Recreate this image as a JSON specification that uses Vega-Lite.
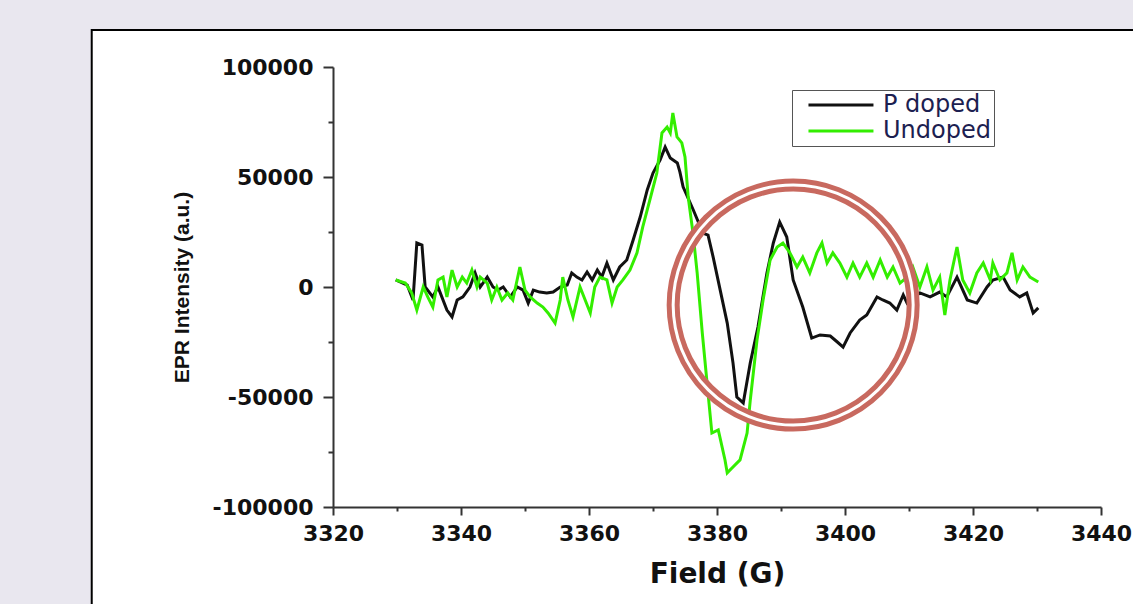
{
  "$schema": "https://vega.github.io/schema/vega-lite/v6.json",
  "width": 768,
  "height": 440,
  "autosize": {"type": "none"},
  "padding": {"left": 333, "top": 67, "right": 32, "bottom": 97},
  "background": "#e9e7ef",
  "config": {"view": {"stroke": null}},
  "datasets": {
    "epr": [
      {"B": 3329.8, "I": 3200, "sample": "P doped"},
      {"B": 3331.6, "I": 900, "sample": "P doped"},
      {"B": 3332.5, "I": -5900, "sample": "P doped"},
      {"B": 3333.1, "I": 20000, "sample": "P doped"},
      {"B": 3333.9, "I": 19100, "sample": "P doped"},
      {"B": 3334.4, "I": 0, "sample": "P doped"},
      {"B": 3335.6, "I": -4500, "sample": "P doped"},
      {"B": 3336.4, "I": 0, "sample": "P doped"},
      {"B": 3337.8, "I": -10500, "sample": "P doped"},
      {"B": 3338.6, "I": -13600, "sample": "P doped"},
      {"B": 3339.4, "I": -5900, "sample": "P doped"},
      {"B": 3340.3, "I": -4500, "sample": "P doped"},
      {"B": 3341.4, "I": 0, "sample": "P doped"},
      {"B": 3342.2, "I": 6400, "sample": "P doped"},
      {"B": 3343.0, "I": 0, "sample": "P doped"},
      {"B": 3344.1, "I": 4500, "sample": "P doped"},
      {"B": 3345.0, "I": 0, "sample": "P doped"},
      {"B": 3345.8, "I": -1400, "sample": "P doped"},
      {"B": 3346.6, "I": 0, "sample": "P doped"},
      {"B": 3347.7, "I": -4500, "sample": "P doped"},
      {"B": 3348.8, "I": 0, "sample": "P doped"},
      {"B": 3349.7, "I": -1400, "sample": "P doped"},
      {"B": 3350.5, "I": -7300, "sample": "P doped"},
      {"B": 3351.3, "I": -1400, "sample": "P doped"},
      {"B": 3352.3, "I": -2300, "sample": "P doped"},
      {"B": 3353.4, "I": -2700, "sample": "P doped"},
      {"B": 3354.4, "I": -2300, "sample": "P doped"},
      {"B": 3355.5, "I": 0, "sample": "P doped"},
      {"B": 3356.6, "I": 900, "sample": "P doped"},
      {"B": 3357.3, "I": 6400, "sample": "P doped"},
      {"B": 3358.1, "I": 4500, "sample": "P doped"},
      {"B": 3358.9, "I": 3200, "sample": "P doped"},
      {"B": 3359.7, "I": 6800, "sample": "P doped"},
      {"B": 3360.5, "I": 3200, "sample": "P doped"},
      {"B": 3361.3, "I": 7700, "sample": "P doped"},
      {"B": 3362.0, "I": 4500, "sample": "P doped"},
      {"B": 3362.8, "I": 10900, "sample": "P doped"},
      {"B": 3363.8, "I": 3200, "sample": "P doped"},
      {"B": 3364.8, "I": 9100, "sample": "P doped"},
      {"B": 3365.9, "I": 12300, "sample": "P doped"},
      {"B": 3366.9, "I": 21400, "sample": "P doped"},
      {"B": 3368.0, "I": 31800, "sample": "P doped"},
      {"B": 3369.1, "I": 44100, "sample": "P doped"},
      {"B": 3370.0, "I": 51800, "sample": "P doped"},
      {"B": 3371.1, "I": 57700, "sample": "P doped"},
      {"B": 3371.9, "I": 63600, "sample": "P doped"},
      {"B": 3372.7, "I": 58600, "sample": "P doped"},
      {"B": 3373.8, "I": 56400, "sample": "P doped"},
      {"B": 3374.2, "I": 52300, "sample": "P doped"},
      {"B": 3374.7, "I": 45500, "sample": "P doped"},
      {"B": 3376.3, "I": 35000, "sample": "P doped"},
      {"B": 3377.8, "I": 24500, "sample": "P doped"},
      {"B": 3378.6, "I": 23600, "sample": "P doped"},
      {"B": 3379.4, "I": 13600, "sample": "P doped"},
      {"B": 3380.5, "I": -1400, "sample": "P doped"},
      {"B": 3381.6, "I": -16400, "sample": "P doped"},
      {"B": 3382.5, "I": -34500, "sample": "P doped"},
      {"B": 3383.1, "I": -50000, "sample": "P doped"},
      {"B": 3384.1, "I": -52700, "sample": "P doped"},
      {"B": 3385.2, "I": -34500, "sample": "P doped"},
      {"B": 3386.4, "I": -18200, "sample": "P doped"},
      {"B": 3387.8, "I": 6400, "sample": "P doped"},
      {"B": 3388.8, "I": 20000, "sample": "P doped"},
      {"B": 3389.8, "I": 29500, "sample": "P doped"},
      {"B": 3390.9, "I": 22700, "sample": "P doped"},
      {"B": 3391.9, "I": 3200, "sample": "P doped"},
      {"B": 3393.4, "I": -9100, "sample": "P doped"},
      {"B": 3394.8, "I": -23200, "sample": "P doped"},
      {"B": 3396.1, "I": -21800, "sample": "P doped"},
      {"B": 3397.7, "I": -22300, "sample": "P doped"},
      {"B": 3398.8, "I": -25000, "sample": "P doped"},
      {"B": 3399.7, "I": -27300, "sample": "P doped"},
      {"B": 3400.8, "I": -20900, "sample": "P doped"},
      {"B": 3402.3, "I": -15000, "sample": "P doped"},
      {"B": 3403.4, "I": -12700, "sample": "P doped"},
      {"B": 3405.0, "I": -4500, "sample": "P doped"},
      {"B": 3405.9, "I": -5900, "sample": "P doped"},
      {"B": 3407.0, "I": -7300, "sample": "P doped"},
      {"B": 3408.1, "I": -10500, "sample": "P doped"},
      {"B": 3409.1, "I": -3600, "sample": "P doped"},
      {"B": 3409.7, "I": -7300, "sample": "P doped"},
      {"B": 3411.7, "I": -2700, "sample": "P doped"},
      {"B": 3413.3, "I": -4500, "sample": "P doped"},
      {"B": 3414.8, "I": -2300, "sample": "P doped"},
      {"B": 3415.9, "I": -4500, "sample": "P doped"},
      {"B": 3417.5, "I": 4500, "sample": "P doped"},
      {"B": 3419.1, "I": -5900, "sample": "P doped"},
      {"B": 3420.6, "I": -7300, "sample": "P doped"},
      {"B": 3422.2, "I": 0, "sample": "P doped"},
      {"B": 3423.1, "I": 3200, "sample": "P doped"},
      {"B": 3424.7, "I": 4500, "sample": "P doped"},
      {"B": 3425.8, "I": -1400, "sample": "P doped"},
      {"B": 3427.3, "I": -4500, "sample": "P doped"},
      {"B": 3428.4, "I": -2700, "sample": "P doped"},
      {"B": 3429.4, "I": -11800, "sample": "P doped"},
      {"B": 3430.2, "I": -9500, "sample": "P doped"},
      {"B": 3329.8, "I": 3200, "sample": "Undoped"},
      {"B": 3331.3, "I": 1800, "sample": "Undoped"},
      {"B": 3332.3, "I": -2700, "sample": "Undoped"},
      {"B": 3333.1, "I": -10500, "sample": "Undoped"},
      {"B": 3334.1, "I": 0, "sample": "Undoped"},
      {"B": 3334.8, "I": -4500, "sample": "Undoped"},
      {"B": 3335.6, "I": -9100, "sample": "Undoped"},
      {"B": 3336.4, "I": 3200, "sample": "Undoped"},
      {"B": 3337.2, "I": 4500, "sample": "Undoped"},
      {"B": 3337.8, "I": -4500, "sample": "Undoped"},
      {"B": 3338.6, "I": 7700, "sample": "Undoped"},
      {"B": 3339.4, "I": 0, "sample": "Undoped"},
      {"B": 3340.2, "I": 4500, "sample": "Undoped"},
      {"B": 3340.9, "I": 1800, "sample": "Undoped"},
      {"B": 3341.7, "I": 7700, "sample": "Undoped"},
      {"B": 3342.5, "I": 0, "sample": "Undoped"},
      {"B": 3343.0, "I": 4500, "sample": "Undoped"},
      {"B": 3344.1, "I": 1800, "sample": "Undoped"},
      {"B": 3344.8, "I": -5900, "sample": "Undoped"},
      {"B": 3345.6, "I": 0, "sample": "Undoped"},
      {"B": 3346.4, "I": -5900, "sample": "Undoped"},
      {"B": 3347.3, "I": -2700, "sample": "Undoped"},
      {"B": 3348.1, "I": -5900, "sample": "Undoped"},
      {"B": 3349.2, "I": 9100, "sample": "Undoped"},
      {"B": 3350.0, "I": -1400, "sample": "Undoped"},
      {"B": 3350.8, "I": -4500, "sample": "Undoped"},
      {"B": 3351.9, "I": -7300, "sample": "Undoped"},
      {"B": 3352.8, "I": -9100, "sample": "Undoped"},
      {"B": 3353.6, "I": -11800, "sample": "Undoped"},
      {"B": 3354.7, "I": -16400, "sample": "Undoped"},
      {"B": 3355.5, "I": -5900, "sample": "Undoped"},
      {"B": 3355.9, "I": 4500, "sample": "Undoped"},
      {"B": 3356.7, "I": -5900, "sample": "Undoped"},
      {"B": 3357.5, "I": -13600, "sample": "Undoped"},
      {"B": 3358.6, "I": 0, "sample": "Undoped"},
      {"B": 3359.4, "I": -5900, "sample": "Undoped"},
      {"B": 3360.2, "I": -11800, "sample": "Undoped"},
      {"B": 3360.9, "I": 0, "sample": "Undoped"},
      {"B": 3361.7, "I": 4500, "sample": "Undoped"},
      {"B": 3362.8, "I": 3200, "sample": "Undoped"},
      {"B": 3363.6, "I": -7300, "sample": "Undoped"},
      {"B": 3364.4, "I": 0, "sample": "Undoped"},
      {"B": 3365.3, "I": 3200, "sample": "Undoped"},
      {"B": 3366.4, "I": 7700, "sample": "Undoped"},
      {"B": 3367.5, "I": 15500, "sample": "Undoped"},
      {"B": 3368.4, "I": 27300, "sample": "Undoped"},
      {"B": 3369.5, "I": 39500, "sample": "Undoped"},
      {"B": 3370.6, "I": 51800, "sample": "Undoped"},
      {"B": 3371.4, "I": 70000, "sample": "Undoped"},
      {"B": 3372.2, "I": 72700, "sample": "Undoped"},
      {"B": 3372.7, "I": 70000, "sample": "Undoped"},
      {"B": 3373.1, "I": 79100, "sample": "Undoped"},
      {"B": 3373.75, "I": 68200, "sample": "Undoped"},
      {"B": 3374.5, "I": 65500, "sample": "Undoped"},
      {"B": 3375.0, "I": 59100, "sample": "Undoped"},
      {"B": 3375.5, "I": 40900, "sample": "Undoped"},
      {"B": 3376.25, "I": 24500, "sample": "Undoped"},
      {"B": 3376.9, "I": 6400, "sample": "Undoped"},
      {"B": 3377.7, "I": -20900, "sample": "Undoped"},
      {"B": 3378.6, "I": -48200, "sample": "Undoped"},
      {"B": 3379.2, "I": -66400, "sample": "Undoped"},
      {"B": 3380.2, "I": -65000, "sample": "Undoped"},
      {"B": 3381.25, "I": -78600, "sample": "Undoped"},
      {"B": 3381.6, "I": -84500, "sample": "Undoped"},
      {"B": 3382.5, "I": -81800, "sample": "Undoped"},
      {"B": 3383.6, "I": -78600, "sample": "Undoped"},
      {"B": 3384.7, "I": -66400, "sample": "Undoped"},
      {"B": 3385.2, "I": -51400, "sample": "Undoped"},
      {"B": 3386.25, "I": -24100, "sample": "Undoped"},
      {"B": 3387.2, "I": -5900, "sample": "Undoped"},
      {"B": 3388.3, "I": 12300, "sample": "Undoped"},
      {"B": 3389.4, "I": 18200, "sample": "Undoped"},
      {"B": 3390.3, "I": 20000, "sample": "Undoped"},
      {"B": 3391.4, "I": 15500, "sample": "Undoped"},
      {"B": 3392.5, "I": 9100, "sample": "Undoped"},
      {"B": 3393.4, "I": 13600, "sample": "Undoped"},
      {"B": 3394.5, "I": 6400, "sample": "Undoped"},
      {"B": 3395.6, "I": 15500, "sample": "Undoped"},
      {"B": 3396.4, "I": 20000, "sample": "Undoped"},
      {"B": 3397.2, "I": 10900, "sample": "Undoped"},
      {"B": 3398.1, "I": 15500, "sample": "Undoped"},
      {"B": 3399.2, "I": 10900, "sample": "Undoped"},
      {"B": 3400.3, "I": 4500, "sample": "Undoped"},
      {"B": 3401.25, "I": 10900, "sample": "Undoped"},
      {"B": 3402.3, "I": 4500, "sample": "Undoped"},
      {"B": 3403.4, "I": 10900, "sample": "Undoped"},
      {"B": 3404.4, "I": 4500, "sample": "Undoped"},
      {"B": 3405.5, "I": 12300, "sample": "Undoped"},
      {"B": 3406.6, "I": 4500, "sample": "Undoped"},
      {"B": 3407.5, "I": 9100, "sample": "Undoped"},
      {"B": 3408.6, "I": 1800, "sample": "Undoped"},
      {"B": 3409.7, "I": 4500, "sample": "Undoped"},
      {"B": 3410.6, "I": 9100, "sample": "Undoped"},
      {"B": 3411.7, "I": 0, "sample": "Undoped"},
      {"B": 3412.8, "I": 9100, "sample": "Undoped"},
      {"B": 3413.75, "I": -1400, "sample": "Undoped"},
      {"B": 3414.8, "I": 4500, "sample": "Undoped"},
      {"B": 3415.6, "I": -12700, "sample": "Undoped"},
      {"B": 3416.4, "I": 3200, "sample": "Undoped"},
      {"B": 3417.5, "I": 18200, "sample": "Undoped"},
      {"B": 3418.4, "I": 3200, "sample": "Undoped"},
      {"B": 3419.5, "I": -2700, "sample": "Undoped"},
      {"B": 3420.6, "I": 6400, "sample": "Undoped"},
      {"B": 3421.6, "I": 10900, "sample": "Undoped"},
      {"B": 3422.7, "I": 3200, "sample": "Undoped"},
      {"B": 3423.1, "I": 10900, "sample": "Undoped"},
      {"B": 3424.2, "I": 3200, "sample": "Undoped"},
      {"B": 3425.3, "I": 6400, "sample": "Undoped"},
      {"B": 3426.1, "I": 15500, "sample": "Undoped"},
      {"B": 3426.9, "I": 3200, "sample": "Undoped"},
      {"B": 3427.8, "I": 9100, "sample": "Undoped"},
      {"B": 3428.9, "I": 4500, "sample": "Undoped"},
      {"B": 3430.2, "I": 2300, "sample": "Undoped"}
    ]
  },
  "layer": [
    {
      "data": {"values": [{}]},
      "mark": {"type": "rect", "fill": "white", "stroke": "black", "strokeWidth": 2},
      "encoding": {
        "x": {"datum": 3282.3, "type": "quantitative", "scale": {"domain": [3320, 3440], "nice": false, "zero": false},
          "axis": {
            "title": "Field (G)",
            "zindex": 1,
            "values": [3320, 3330, 3340, 3350, 3360, 3370, 3380, 3390, 3400, 3410, 3420, 3430, 3440],
            "labelExpr": "datum.value % 20 === 0 ? '' + datum.value : ''",
            "tickSize": {"condition": {"test": "datum.value % 20 === 0", "value": 8}, "value": 4},
            "grid": false,
            "domainColor": "#333333", "domainWidth": 2,
            "tickColor": "#333333", "tickWidth": 2,
            "labelFont": "DejaVu Sans", "labelFontWeight": "bold", "labelFontSize": 22, "labelColor": "#111111",
            "labelPadding": 8, "labelOverlap": false, "labelFlush": false,
            "titleFont": "DejaVu Sans", "titleFontWeight": "bold", "titleFontSize": 28, "titleColor": "#111111",
            "titlePadding": 16
          }},
        "x2": {"datum": 3480},
        "y": {"datum": 116800, "type": "quantitative", "scale": {"domain": [-100000, 100000], "nice": false, "zero": false},
          "axis": {
            "title": "EPR Intensity (a.u.)",
            "zindex": 1,
            "values": [-100000, -75000, -50000, -25000, 0, 25000, 50000, 75000, 100000],
            "labelExpr": "datum.value % 50000 === 0 ? '' + datum.value : ''",
            "tickSize": {"condition": {"test": "datum.value % 50000 === 0", "value": 10}, "value": 5},
            "grid": false,
            "domainColor": "#333333", "domainWidth": 2,
            "tickColor": "#333333", "tickWidth": 2,
            "labelFont": "DejaVu Sans", "labelFontWeight": "bold", "labelFontSize": 22, "labelColor": "#111111",
            "labelPadding": 10, "labelOverlap": false, "labelFlush": false,
            "titleFont": "Liberation Sans", "titleFontWeight": "bold", "titleFontSize": 21, "titleColor": "#111111",
            "titlePadding": 20
          }},
        "y2": {"datum": -260000}
      }
    },
    {
      "data": {"name": "epr"},
      "mark": {"type": "line", "strokeWidth": 3},
      "encoding": {
        "x": {"field": "B", "type": "quantitative", "scale": {"domain": [3320, 3440], "nice": false, "zero": false}, "title": "Field (G)"},
        "y": {"field": "I", "type": "quantitative", "scale": {"domain": [-100000, 100000], "nice": false, "zero": false}, "title": "EPR Intensity (a.u.)"},
        "color": {
          "field": "sample", "type": "nominal",
          "scale": {"domain": ["P doped", "Undoped"], "range": ["#111111", "#33ee00"]},
          "legend": {
            "orient": "none", "legendX": 459, "legendY": 23, "title": null,
            "symbolType": "M0.14,0H6.33", "symbolSize": 441, "symbolStrokeWidth": 3,
            "labelOffset": 64, "labelFont": "DejaVu Sans", "labelFontSize": 24, "labelColor": "#1c2050",
            "padding": 3, "rowPadding": 2, "strokeColor": "#555555", "fillColor": "white", "cornerRadius": 0
          }
        }
      }
    },
    {
      "data": {"values": [{}]},
      "mark": {"type": "point", "shape": "circle", "filled": false, "size": 57600, "stroke": "#c8695f", "strokeWidth": 13, "opacity": 1},
      "encoding": {
        "x": {"datum": 3391.9, "type": "quantitative", "scale": {"domain": [3320, 3440], "nice": false, "zero": false}, "title": "Field (G)"},
        "y": {"datum": -8200, "type": "quantitative", "scale": {"domain": [-100000, 100000], "nice": false, "zero": false}, "title": "EPR Intensity (a.u.)"}
      }
    },
    {
      "data": {"values": [{}]},
      "mark": {"type": "point", "shape": "circle", "filled": false, "size": 57600, "stroke": "white", "strokeWidth": 3, "opacity": 1},
      "encoding": {
        "x": {"datum": 3391.9, "type": "quantitative", "scale": {"domain": [3320, 3440], "nice": false, "zero": false}, "title": "Field (G)"},
        "y": {"datum": -8200, "type": "quantitative", "scale": {"domain": [-100000, 100000], "nice": false, "zero": false}, "title": "EPR Intensity (a.u.)"}
      }
    }
  ]
}
